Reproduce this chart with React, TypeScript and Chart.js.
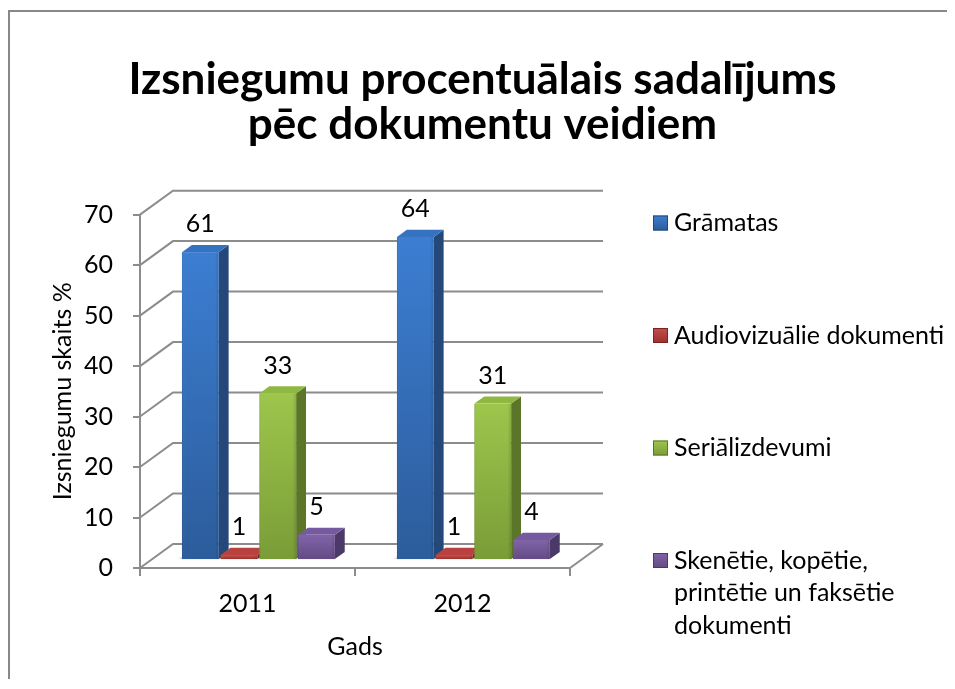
import React, { useEffect, useRef } from 'react';
import { Chart, registerables } from 'chart.js';

Chart.register(...registerables);

// ---------- data ----------
const TITLE_LINES = ['Izsniegumu procentuālais sadalījums', 'pēc dokumentu veidiem'];
const CATEGORIES = ['2011', '2012'];
const SERIES_NAMES = [
  'Grāmatas',
  'Audiovizuālie dokumenti',
  'Seriālizdevumi',
  'Skenētie, kopētie, printētie un faksētie dokumenti',
];
const GRAMATAS = [61, 64];
const AUDIOVIZUALIE = [1, 1];
const SERIALIZDEVUMI = [33, 31];
const SKENETIE = [5, 4];
const Y_MIN = 0;
const Y_MAX = 70;
const Y_STEP = 10;
const Y_TITLE = 'Izsniegumu skaits %';
const X_TITLE = 'Gads';

// ---------- styles ----------
const FONT = 'Lato';
const GRID = '#8c8c8c';
const PALETTE = [
  { frontA: '#3c7ed2', frontB: '#2c5c9b', side: '#234879', lid: '#3572c2' },
  { frontA: '#c4504c', frontB: '#9c302d', side: '#7a2422', lid: '#b9423f' },
  { frontA: '#9dc64c', frontB: '#7a9c37', side: '#5b7629', lid: '#8fb843' },
  { frontA: '#8164a8', frontB: '#634a85', side: '#4b3967', lid: '#765aa0' },
];
const DX = 33; // full depth offset x
const DY = -24; // full depth offset y
const F0 = 0.33; // bar front depth fraction
const F1 = 0.63; // bar back depth fraction

const wallsPlugin = {
  id: 'walls3d',
  beforeDatasetsDraw(chart: any) {
    const { ctx, chartArea } = chart;
    const { left, right, bottom } = chartArea;
    const ys = chart.scales.y;
    ctx.save();
    ctx.strokeStyle = GRID;
    ctx.lineWidth = 2;
    ys.ticks.forEach((t: any) => {
      const y = ys.getPixelForValue(t.value);
      ctx.beginPath();
      ctx.moveTo(left, y);
      ctx.lineTo(left + DX, y + DY);
      ctx.lineTo(right + DX, y + DY);
      ctx.stroke();
    });
    ctx.beginPath();
    ctx.moveTo(right, bottom);
    ctx.lineTo(right + DX, bottom + DY);
    ctx.stroke();
    ctx.restore();
  },
};

function drawBox(ctx: CanvasRenderingContext2D, x0: number, x1: number, yT: number, yB: number, ddx: number, ddy: number, c: any) {
  // soft floor shadow
  ctx.fillStyle = 'rgba(0,0,0,0.10)';
  ctx.beginPath();
  ctx.moveTo(x0 - 4, yB);
  ctx.lineTo(x1, yB);
  ctx.lineTo(x1 + ddx, yB + ddy);
  ctx.lineTo(x0 + ddx - 4, yB + ddy);
  ctx.closePath();
  ctx.fill();
  // side
  ctx.beginPath();
  ctx.moveTo(x1, yT);
  ctx.lineTo(x1 + ddx, yT + ddy);
  ctx.lineTo(x1 + ddx, yB + ddy);
  ctx.lineTo(x1, yB);
  ctx.closePath();
  ctx.fillStyle = c.side;
  ctx.fill();
  // top
  ctx.beginPath();
  ctx.moveTo(x0, yT);
  ctx.lineTo(x0 + ddx, yT + ddy);
  ctx.lineTo(x1 + ddx, yT + ddy);
  ctx.lineTo(x1, yT);
  ctx.closePath();
  ctx.fillStyle = c.lid;
  ctx.fill();
  // front
  const g = ctx.createLinearGradient(0, yT, 0, yB);
  g.addColorStop(0, c.frontA);
  g.addColorStop(1, c.frontB);
  ctx.fillStyle = g;
  ctx.fillRect(x0, yT, x1 - x0, yB - yT);
  const gh = ctx.createLinearGradient(x0, 0, x1, 0);
  gh.addColorStop(0, 'rgba(0,0,0,0.10)');
  gh.addColorStop(0.08, 'rgba(255,255,255,0.0)');
  gh.addColorStop(0.9, 'rgba(0,0,0,0.0)');
  gh.addColorStop(1, 'rgba(0,0,0,0.12)');
  ctx.fillStyle = gh;
  ctx.fillRect(x0, yT, x1 - x0, yB - yT);
}

const bars3dPlugin = {
  id: 'bars3d',
  afterDatasetsDraw(chart: any) {
    const { ctx } = chart;
    const nCat = chart.data.labels.length;
    ctx.save();
    for (let ci = 0; ci < nCat; ci++) {
      chart.data.datasets.forEach((ds: any, di: number) => {
        const meta = chart.getDatasetMeta(di);
        const el = meta.data[ci];
        if (!el) return;
        const { x, y, base, width } = el.getProps(['x', 'y', 'base', 'width'], true);
        const ox = DX * F0, oy = DY * F0;
        const ddx = DX * (F1 - F0), ddy = DY * (F1 - F0);
        const x0 = x - width / 2 + ox;
        const x1 = x + width / 2 + ox;
        drawBox(ctx, x0, x1, y + oy, base + oy, ddx, ddy, PALETTE[di]);
      });
    }
    // value labels
    ctx.fillStyle = '#000';
    ctx.font = `25px ${FONT}`;
    ctx.textAlign = 'center';
    ctx.textBaseline = 'middle';
    chart.data.datasets.forEach((ds: any, di: number) => {
      const meta = chart.getDatasetMeta(di);
      meta.data.forEach((el: any, i: number) => {
        const { x, y } = el.getProps(['x', 'y'], true);
        ctx.fillText(String(ds.data[i]), x + DX * F0, y + DY * F0 - 28);
      });
    });
    ctx.restore();
  },
};

function wrap(ctx: CanvasRenderingContext2D, text: string, maxW: number): string[] {
  const words = text.split(' ');
  const lines: string[] = [];
  let cur = '';
  words.forEach((w) => {
    const t = cur ? cur + ' ' + w : w;
    if (ctx.measureText(t).width > maxW && cur) {
      lines.push(cur);
      cur = w;
    } else cur = t;
  });
  if (cur) lines.push(cur);
  return lines;
}

const legendPlugin = {
  id: 'legend3d',
  afterDraw(chart: any) {
    const { ctx } = chart;
    const sqX = 643, txX = 664, y0 = 211, gap = 112.5, lh = 32.5, sq = 15;
    ctx.save();
    ctx.font = `25px ${FONT}`;
    ctx.textBaseline = 'middle';
    ctx.textAlign = 'left';
    chart.data.datasets.forEach((ds: any, i: number) => {
      const cy = y0 + gap * i;
      const c = PALETTE[i];
      const g = ctx.createLinearGradient(0, cy - sq / 2, 0, cy + sq / 2);
      g.addColorStop(0, c.frontA);
      g.addColorStop(1, c.frontB);
      ctx.fillStyle = g;
      ctx.fillRect(sqX, cy - sq / 2, sq, sq);
      ctx.strokeStyle = c.side;
      ctx.lineWidth = 1;
      ctx.strokeRect(sqX + 0.5, cy - sq / 2 + 0.5, sq - 1, sq - 1);
      ctx.fillStyle = '#000';
      const lines = wrap(ctx, ds.label, 272);
      lines.forEach((ln, k) => ctx.fillText(ln, txX, cy + k * lh));
    });
    ctx.restore();
  },
};

export default function App() {
  const ref = useRef<HTMLCanvasElement | null>(null);
  useEffect(() => {
    document.documentElement.style.overflow = 'hidden';
    document.body.style.overflow = 'hidden';
    const series = [GRAMATAS, AUDIOVIZUALIE, SERIALIZDEVUMI, SKENETIE];
    const chart = new Chart(ref.current as HTMLCanvasElement, {
      type: 'bar',
      data: {
        labels: CATEGORIES,
        datasets: series.map((d, i) => ({
          label: SERIES_NAMES[i],
          data: d,
          backgroundColor: 'rgba(0,0,0,0)',
          borderWidth: 0,
          barPercentage: 0.95,
          categoryPercentage: 0.72,
        })),
      },
      options: {
        responsive: false,
        animation: false,
        events: [],
        layout: { padding: 0 },
        plugins: {
          legend: { display: false },
          tooltip: { enabled: false },
          title: {
            display: true,
            text: TITLE_LINES,
            color: '#000',
            font: { family: FONT, size: 44, weight: 'bold', lineHeight: 1.03 },
            padding: { top: 45, bottom: 67 },
          },
        },
        scales: {
          x: {
            grid: { drawOnChartArea: false, drawTicks: true, tickLength: 8, color: GRID, lineWidth: 2, offset: true },
            border: { display: true, color: GRID, width: 2 },
            ticks: { color: '#000', font: { family: FONT, size: 25 }, padding: 13 },
            title: { display: true, text: X_TITLE, color: '#000', font: { family: FONT, size: 25 }, padding: { top: 0, bottom: 19 } },
            afterFit: (s: any) => { s.height = 113; },
          },
          y: {
            min: Y_MIN,
            max: Y_MAX,
            grid: { drawOnChartArea: false, drawTicks: true, tickLength: 7, color: GRID, lineWidth: 2 },
            border: { display: true, color: GRID, width: 2 },
            ticks: { stepSize: Y_STEP, color: '#000', font: { family: FONT, size: 25 }, padding: 20 },
            title: { display: true, text: Y_TITLE, color: '#000', font: { family: FONT, size: 25 }, padding: { top: 38, bottom: 0 } },
            afterFit: (s: any) => { s.width = 130; },
          },
          legendSpace: {
            type: 'linear',
            position: 'right',
            display: true,
            grid: { display: false, drawTicks: false },
            border: { display: false },
            ticks: { display: false },
            afterFit: (s: any) => { s.width = 385; },
          },
        },
      },
      plugins: [wallsPlugin, bars3dPlugin, legendPlugin],
    } as any);
    return () => chart.destroy();
  }, []);

  return (
    <div
      style={{
        position: 'relative',
        top: 2,
        marginRight: -8,
        borderTop: '2px solid #888',
        borderLeft: '2px solid #888',
        height: 669,
        background: '#fff',
      }}
    >
      <canvas ref={ref} width={945} height={669} style={{ display: 'block' }} />
    </div>
  );
}
